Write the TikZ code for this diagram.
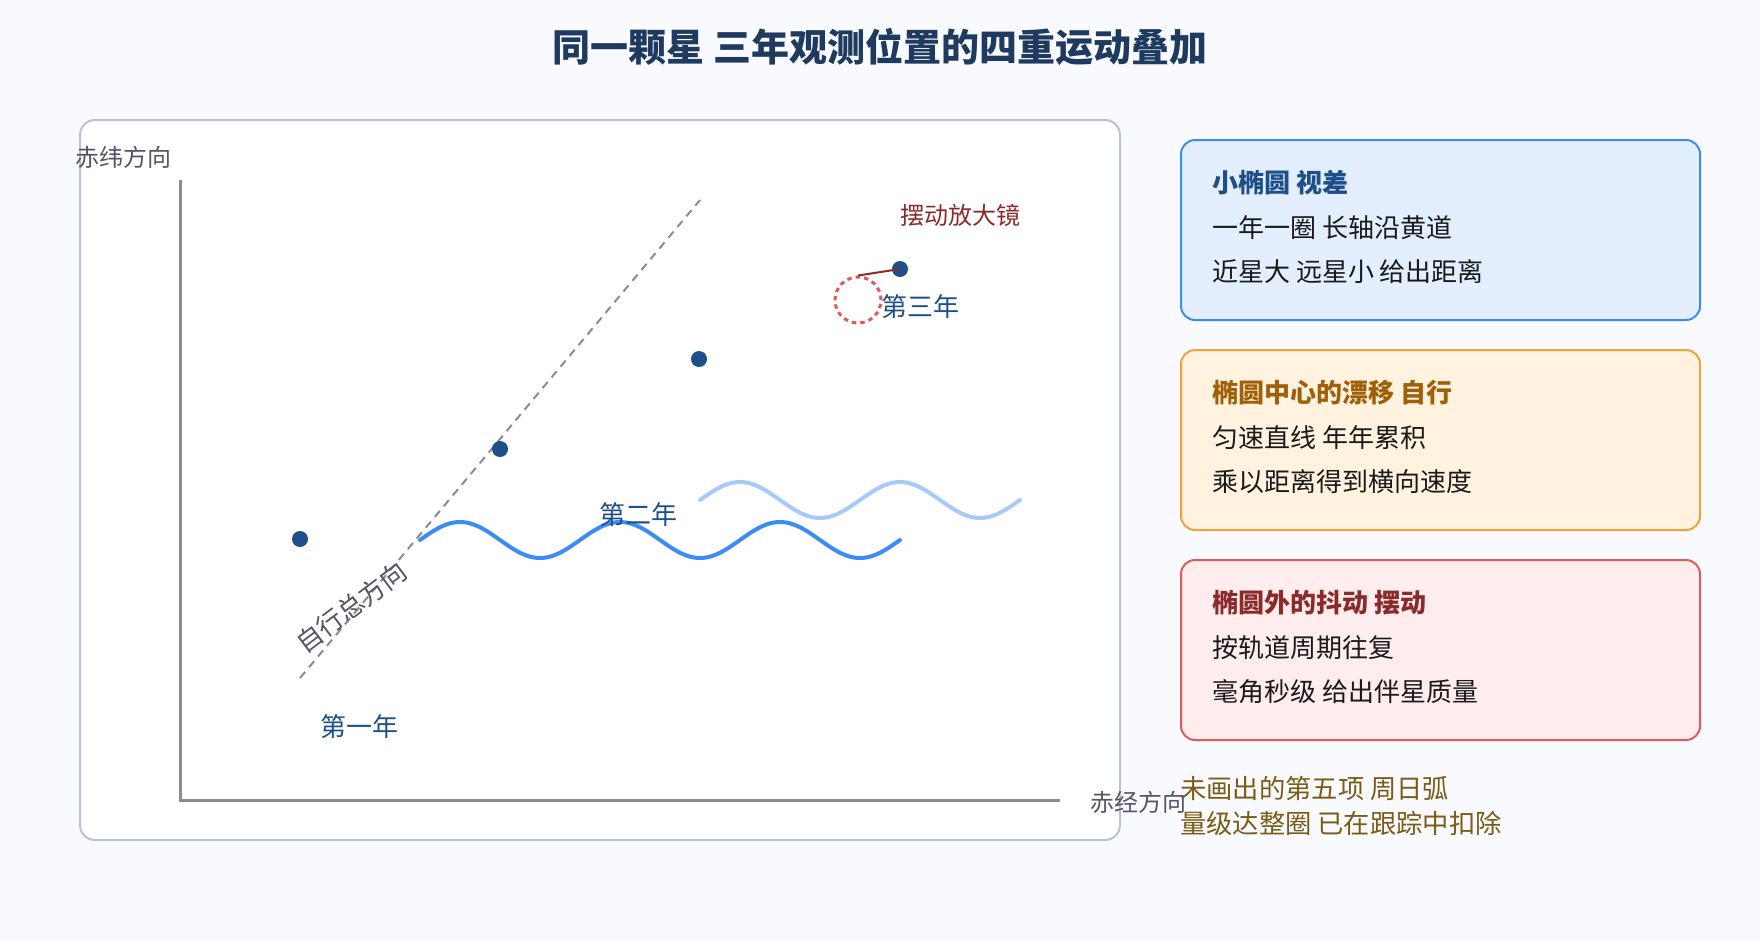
\documentclass[tikz,border=0pt]{standalone}
\usepackage{fontspec}
\setmainfont{Noto Sans CJK SC}
\definecolor{bgc}{HTML}{F8FAFF}
\definecolor{framec}{HTML}{B7C3D6}
\definecolor{axisc}{HTML}{8A8A99}
\definecolor{dotc}{HTML}{1E4F8A}
\definecolor{labc}{HTML}{555566}
\definecolor{wavedark}{HTML}{3B8DF5}
\definecolor{wavelight}{HTML}{A6CBF8}
\definecolor{redc}{HTML}{E05A5A}
\definecolor{darkred}{HTML}{8B2A2A}
\definecolor{fillblue}{HTML}{E3EFFF}
\definecolor{fillorange}{HTML}{FFF3E0}
\definecolor{borderorange}{HTML}{F5A03A}
\definecolor{hdrorange}{HTML}{A0600A}
\definecolor{fillred}{HTML}{FFECEC}
\definecolor{notec}{HTML}{7A5C14}
\definecolor{titlec}{HTML}{1E3A5F}
\definecolor{bodyc}{HTML}{1A1A1A}
\begin{document}
\begin{tikzpicture}[x=1pt,y=-1pt,
  infobox/.style={rounded corners=14pt, line width=2pt},
  hdr/.style={anchor=west, inner sep=0pt, font=\fontsize{26}{31}\selectfont\bfseries},
  body/.style={anchor=west, inner sep=0pt, text=bodyc, font=\fontsize{26}{31}\selectfont},
  yearlab/.style={inner sep=0pt, text=dotc, font=\fontsize{26}{31}\selectfont},
  axlab/.style={inner sep=0pt, text=labc, font=\fontsize{24}{29}\selectfont},
  notelab/.style={anchor=west, inner sep=0pt, text=notec, font=\fontsize{26.3}{31}\selectfont},
  stardot/.style={circle, fill=dotc, minimum size=16pt, inner sep=0pt},
  wave/.style={line width=4pt, line cap=round}
]
\useasboundingbox[fill=bgc] (0,0) rectangle (1760,940);

% title
\node[inner sep=0pt, text=titlec, font=\fontsize{38}{44}\selectfont\bfseries] (title) at (880,47) {同一颗星 三年观测位置的四重运动叠加};

% main frame
\draw[framec, fill=white, line width=2pt, rounded corners=15pt] (80,120) rectangle (1120,840);

% axes
\coordinate (ytop) at (180,180);
\coordinate (orig) at (180,800);
\coordinate (xend) at (1060,800);
\draw[axisc, line width=3pt] (ytop) -- (orig) -- (xend);
\node[axlab] (ylab) at (123,157) {赤纬方向};
\node[axlab] (xlab) at (1138,802) {赤经方向};

% proper motion direction
\coordinate (pm0) at (300,678);
\coordinate (pm1) at (700,200);
\draw[axisc, line width=2pt, dash pattern=on 8pt off 6pt] (pm0) -- (pm1);
\node[inner sep=0pt, text=labc, font=\fontsize{26}{31}\selectfont, rotate=37] (pmlab) at (351,607) {自行总方向};

% waves
\draw[wave, wavelight] plot[domain=700:1020, samples=160] (\x, {500 - 18*sin(2.25*(\x-700))});
\draw[wave, wavedark] plot[domain=420:900, samples=220] (\x, {540 - 18*sin(2.25*(\x-420))});

% star positions
\node[stardot] (d0) at (300,539) {};
\node[stardot] (d1) at (500,449) {};
\node[stardot] (d2) at (699,359) {};
\node[stardot] (d3) at (900,269) {};

% year labels
\node[yearlab] (y1) at (359,727) {第一年};
\node[yearlab] (y2) at (638,515) {第二年};
\node[yearlab] (y3) at (920,307) {第三年};

% wobble magnifier
\node[circle, draw=redc, line width=3pt, dash pattern=on 4.5pt off 4pt, minimum size=46pt, inner sep=0pt] (mag) at (858,300) {};
\draw[darkred, line width=2pt] (mag.north) -- (d3.center);
\node[inner sep=0pt, text=darkred, font=\fontsize{24}{29}\selectfont] (maglab) at (960,215) {摆动放大镜};

% info boxes
\draw[infobox, draw=wavedark, fill=fillblue] (1181,140) rectangle (1700,320);
\node[hdr, text=dotc] (b1h) at (1212,183) {小椭圆 视差};
\node[body] (b1a) at (1212,228) {一年一圈 长轴沿黄道};
\node[body] (b1b) at (1212,272) {近星大 远星小 给出距离};

\draw[infobox, draw=borderorange, fill=fillorange] (1181,350) rectangle (1700,530);
\node[hdr, text=hdrorange] (b2h) at (1212,393) {椭圆中心的漂移 自行};
\node[body] (b2a) at (1212,438) {匀速直线 年年累积};
\node[body] (b2b) at (1212,482) {乘以距离得到横向速度};

\draw[infobox, draw=redc, fill=fillred] (1181,560) rectangle (1700,740);
\node[hdr, text=darkred] (b3h) at (1212,603) {椭圆外的抖动 摆动};
\node[body] (b3a) at (1212,648) {按轨道周期往复};
\node[body] (b3b) at (1212,692) {毫角秒级 给出伴星质量};

% note
\node[notelab] (n1) at (1180,789) {未画出的第五项 周日弧};
\node[notelab] (n2) at (1180,823) {量级达整圈 已在跟踪中扣除};
\end{tikzpicture}
\end{document}
